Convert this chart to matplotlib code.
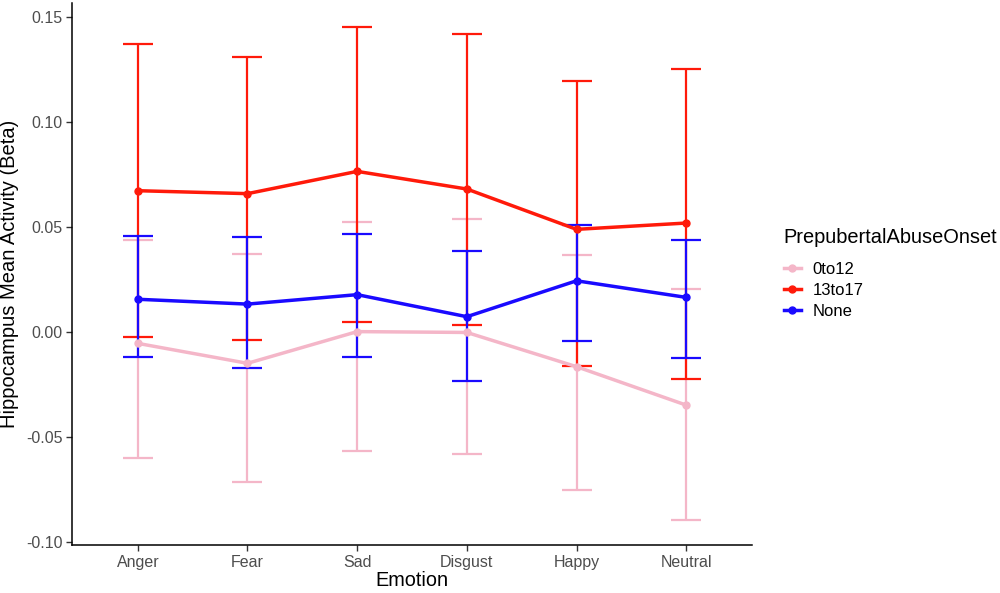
import numpy as np
import matplotlib.pyplot as plt
from matplotlib.lines import Line2D

plt.rcParams['font.family'] = ['Liberation Sans', 'DejaVu Sans']

# Data
emotions = ["Anger", "Fear", "Sad", "Disgust", "Happy", "Neutral"]
groups = ["0to12", "13to17", "None"]
colors = ["#F4B6C8", "#FF1A0A", "#1A0AFF"]

mean_0to12 = [-0.0054, -0.0149, 0.0002, -0.0002, -0.0165, -0.0348]
upper_0to12 = [0.0440, 0.0371, 0.0524, 0.0537, 0.0365, 0.0205]
lower_0to12 = [-0.0601, -0.0714, -0.0567, -0.0579, -0.0752, -0.0895]

mean_13to17 = [0.0673, 0.0659, 0.0765, 0.0681, 0.0489, 0.0519]
upper_13to17 = [0.1373, 0.1310, 0.1451, 0.1418, 0.1194, 0.1254]
lower_13to17 = [-0.0025, -0.0040, 0.0049, 0.0033, -0.0160, -0.0224]

mean_none = [0.0156, 0.0133, 0.0178, 0.0073, 0.0244, 0.0165]
upper_none = [0.0459, 0.0452, 0.0467, 0.0387, 0.0510, 0.0438]
lower_none = [-0.0121, -0.0170, -0.0121, -0.0233, -0.0043, -0.0125]

means = [mean_0to12, mean_13to17, mean_none]
uppers = [upper_0to12, upper_13to17, upper_none]
lowers = [lower_0to12, lower_13to17, lower_none]

fig = plt.figure(figsize=(10, 5.93), dpi=100)
ax = fig.add_axes([0.072, 0.081, 0.68, 0.914])

x = np.arange(len(emotions))
for m, up, lo, c in zip(means, uppers, lowers, colors):
    m = np.array(m)
    yerr = [m - np.array(lo), np.array(up) - m]
    ax.errorbar(x, m, yerr=yerr, fmt="none", ecolor=c, elinewidth=1.6,
                capsize=11, capthick=1.6, zorder=2)
    ax.plot(x, m, color=c, linewidth=2.5, marker="o", markersize=5, zorder=3)

ax.set_xlim(-0.6, len(emotions) - 1 + 0.6)
ax.set_ylim(-0.1014, 0.1567)
ax.set_xticks(x)
ax.set_xticklabels(emotions)
ax.set_yticks([-0.10, -0.05, 0.0, 0.05, 0.10, 0.15])
ax.set_yticklabels(["-0.10", "-0.05", "0.00", "0.05", "0.10", "0.15"])

for side in ["top", "right"]:
    ax.spines[side].set_visible(False)
for side in ["left", "bottom"]:
    ax.spines[side].set_linewidth(1.1)
ax.tick_params(axis="both", length=4, width=1, color="#333333",
               labelcolor="#4D4D4D", labelsize=11.5, pad=3)

ax.set_xlabel("Emotion", fontsize=14.3, labelpad=1)
ax.set_ylabel("Hippocampus Mean Activity (Beta)", fontsize=14.5, labelpad=5)

# legend
fig.text(0.783, 0.5987, "PrepubertalAbuseOnset", fontsize=14.4,
         ha="left", va="center")
handles = [Line2D([0], [0], color=c, linewidth=2.5, marker="o", markersize=5)
           for c in colors]
fig.legend(handles, groups, loc="upper left", bbox_to_anchor=(0.784, 0.559),
           frameon=False, fontsize=12, borderpad=0, borderaxespad=0,
           handlelength=1.0, handletextpad=0.7, labelspacing=0.37)

fig.savefig("out.png", dpi=100)
